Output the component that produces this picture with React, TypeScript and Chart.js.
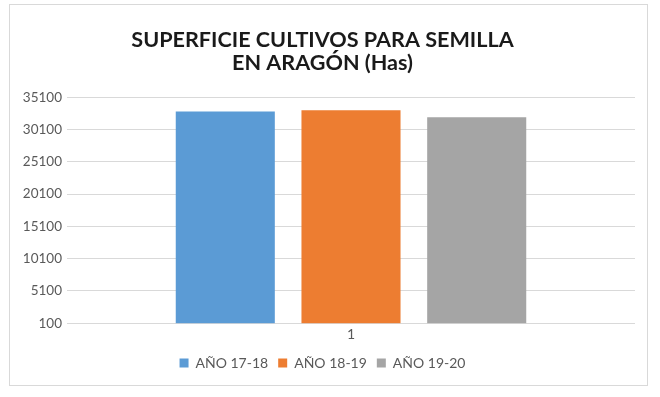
import React, { useEffect, useRef } from "react";
import { Chart, registerables } from "chart.js";

Chart.register(...registerables);

const categories = ["1"];
const seriesNames = ["AÑO 17-18", "AÑO 18-19", "AÑO 19-20"];
const seriesValues = [[32900], [33100], [32000]];
const seriesColors = ["#5B9BD5", "#ED7D31", "#A5A5A5"];
const titleLines = ["SUPERFICIE CULTIVOS PARA SEMILLA", "EN ARAGÓN (Has)"];
const yMin = 100;
const yMax = 35100;
const yStep = 5000;

export default function App() {
  const ref = useRef<HTMLCanvasElement | null>(null);
  useEffect(() => {
    if (!ref.current) return;
    const chart = new Chart(ref.current, {
      type: "bar",
      data: {
        labels: categories,
        datasets: seriesNames.map((n, i) => ({
          label: n,
          data: seriesValues[i],
          backgroundColor: seriesColors[i],
          borderWidth: 0,
          categoryPercentage: 0.664,
          barPercentage: 0.788,
        })),
      },
      options: {
        animation: false,
        responsive: false,
        maintainAspectRatio: false,
        layout: { padding: { left: 0, right: 12, top: 0, bottom: 5 } },
        plugins: {
          title: {
            display: true,
            text: titleLines,
            color: "#1a1a1a",
            font: { family: "Lato", size: 21.6, weight: "bold", lineHeight: 1.07 },
            padding: { top: 23, bottom: 23 },
          },
          legend: {
            position: "bottom",
            labels: {
              boxWidth: 9,
              boxHeight: 9,
              color: "#595959",
              font: { family: "Lato", size: 14 },
              padding: 10,
            },
          },
          tooltip: { enabled: false },
        },
        scales: {
          x: {
            grid: { display: false, drawTicks: false },
            border: { display: false },
            ticks: { color: "#595959", font: { family: "Lato", size: 14 }, padding: 3 },
          },
          y: {
            min: yMin,
            max: yMax,
            ticks: {
              stepSize: yStep,
              color: "#595959",
              font: { family: "Lato", size: 13.5 },
              padding: 5,
              callback: (v: any) => String(v),
            },
            grid: { color: "#d9d9d9", drawTicks: false },
            border: { display: false },
            afterFit: (scale: any) => {
              scale.width = 57;
            },
          },
        },
      },
    });
    return () => chart.destroy();
  }, []);
  return (
    <div
      style={{
        position: "absolute",
        left: 9,
        top: 4,
        width: 639,
        height: 382,
        boxSizing: "border-box",
        border: "1px solid #d9d9d9",
        background: "#fff",
      }}
    >
      <canvas ref={ref} width={637} height={380} style={{ display: "block", width: 637, height: 380 }} />
    </div>
  );
}
